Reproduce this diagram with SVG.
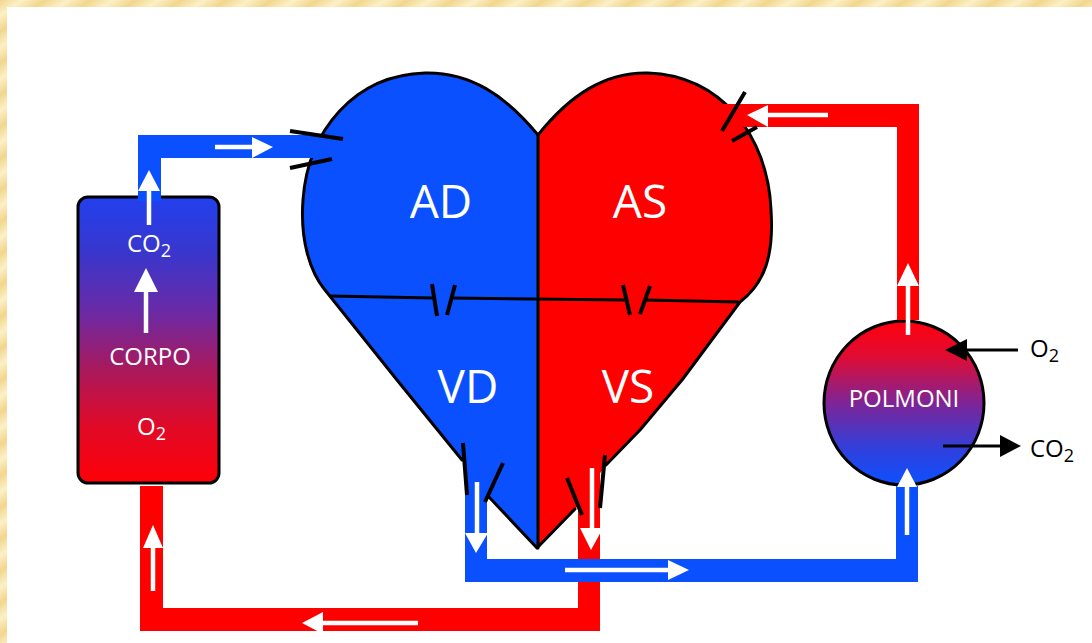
<svg xmlns="http://www.w3.org/2000/svg" width="1092" height="643" viewBox="0 0 1092 643">
  <defs>
    <linearGradient id="paperStripe" x1="0" y1="0" x2="1" y2="0">
      <stop offset="0" stop-color="#f2d68e"/>
      <stop offset="0.5" stop-color="#fcf0c6"/>
      <stop offset="1" stop-color="#f2d68e"/>
    </linearGradient>
    <pattern id="paper" width="26" height="26" patternUnits="userSpaceOnUse" patternTransform="rotate(55)">
      <rect width="26" height="26" fill="url(#paperStripe)"/>
    </pattern>
    <linearGradient id="bodyGrad" x1="0" y1="0" x2="0" y2="1">
      <stop offset="0" stop-color="#2240ee"/>
      <stop offset="0.2" stop-color="#3a36cc"/>
      <stop offset="0.4" stop-color="#6a2aa6"/>
      <stop offset="0.6" stop-color="#a8195e"/>
      <stop offset="0.8" stop-color="#e00a28"/>
      <stop offset="1" stop-color="#ff0008"/>
    </linearGradient>
    <linearGradient id="lungGrad" x1="0" y1="0" x2="0" y2="1">
      <stop offset="0" stop-color="#ff000c"/>
      <stop offset="0.22" stop-color="#e00c34"/>
      <stop offset="0.5" stop-color="#7e2496"/>
      <stop offset="0.78" stop-color="#3040dc"/>
      <stop offset="1" stop-color="#0c50ff"/>
    </linearGradient>
    <style>
      .blue { fill: #0a50ff; }
      .red { fill: #ff0000; }
      .edge { fill: none; stroke: #000; stroke-width: 3; stroke-linejoin: round; stroke-linecap: round; }
      .valve { fill: none; stroke: #000; stroke-width: 4; stroke-linecap: butt; }
      .flow { stroke: #fff; stroke-width: 4.5; fill: none; }
      .head { fill: #fff; }
      .gas { stroke: #000; stroke-width: 3; fill: none; }
      .gashead { fill: #000; }
      .lbl { font-family: "Open Sans", "Liberation Sans", sans-serif; fill: #fff; }
      .chamber { font-size: 46px; text-anchor: middle; }
      .small { font-size: 24px; }
      .ext { font-family: "Open Sans", "Liberation Sans", sans-serif; font-size: 24px; fill: #000; }
    </style>
  </defs>

  <!-- page -->
  <rect x="0" y="0" width="1092" height="643" fill="#fff"/>
  <rect x="0" y="0" width="1092" height="7" fill="url(#paper)"/>
  <rect x="0" y="0" width="7" height="643" fill="url(#paper)"/>

  <!-- heart with its four chambers -->
  <g id="heart">
    <path id="heart-right-side" class="blue" d="M538,135 C505,95 470,72 425,73 C355,75 308,130 303,200 C300,240 310,272 325,290 L397,380 L463,462 L487,495 L537,548 Z"/>
    <path id="heart-left-side" class="red" d="M538,135 C570,95 605,72 648,73 C720,75 768,135 771,210 C774,255 765,283 740,302 L682,380 L640,430 L605,466 L577,507 L537,548 Z"/>
    <path class="edge" d="M538,135 C505,95 470,72 425,73 C355,75 308,130 303,200 C300,240 310,272 325,290 L397,380 L462,460"/>
    <path class="edge" d="M489,497 L537,548 L575,509"/>
    <path class="edge" d="M538,135 C570,95 605,72 648,73 C720,75 768,135 771,210 C774,255 765,283 740,302 L682,380 L640,430 L606,465"/>
    <path class="edge" d="M538,135 L538,548"/>
    <path class="edge" d="M331,296 L433,298 M452,298 L626,300 M646,300 L738,302"/>
    <!-- tricuspid and mitral valves -->
    <path class="valve" d="M432,284 L437,316 M455,285 L447,315"/>
    <path class="valve" d="M623,285 L630,315 M650,286 L640,314"/>
    <g id="AD"><text class="lbl chamber" x="441" y="218">AD</text></g>
    <g id="AS"><text class="lbl chamber" x="640" y="218">AS</text></g>
    <g id="VD"><text class="lbl chamber" x="468" y="403">VD</text></g>
    <g id="VS"><text class="lbl chamber" x="628" y="403">VS</text></g>
  </g>

  <!-- body -->
  <g id="corpo">
    <rect x="78" y="197" width="141" height="286" rx="10" fill="url(#bodyGrad)" stroke="#000" stroke-width="3"/>
    <text class="lbl small" x="127" y="252">CO<tspan font-size="18" dy="5">2</tspan></text>
    <text class="lbl small" x="150" y="365" text-anchor="middle">CORPO</text>
    <text class="lbl small" x="137" y="435">O<tspan font-size="18" dy="5">2</tspan></text>
  </g>

  <!-- lungs -->
  <g id="polmoni">
    <ellipse cx="904" cy="403" rx="80" ry="82" fill="url(#lungGrad)" stroke="#000" stroke-width="3"/>
    <text class="lbl small" x="904" y="407" text-anchor="middle">POLMONI</text>
    <line class="gas" x1="1018" y1="350" x2="964" y2="350"/>
    <polygon class="gashead" points="967,339 967,361 945,350"/>
    <text class="ext" x="1030" y="357">O<tspan font-size="18" dy="5">2</tspan></text>
    <line class="gas" x1="943" y1="446" x2="1002" y2="446"/>
    <polygon class="gashead" points="1000,435 1000,457 1021,446"/>
    <text class="ext" x="1030" y="457">CO<tspan font-size="18" dy="5">2</tspan></text>
  </g>

  <!-- vessels, flow arrows and inlet/outlet valves -->
  <g id="connectors">
    <!-- aorta to body -->
    <rect class="red" x="578" y="470" width="22" height="161"/>
    <rect class="red" x="140" y="608" width="460" height="23"/>
    <rect class="red" x="140" y="486" width="23" height="145"/>
    <!-- pulmonary veins to left atrium -->
    <rect class="red" x="897" y="104" width="22" height="216"/>
    <rect class="red" x="722" y="104" width="197" height="23"/>
    <!-- venae cavae to right atrium -->
    <rect class="blue" x="138" y="135" width="23" height="66"/>
    <rect class="blue" x="138" y="135" width="192" height="23"/>
    <!-- pulmonary artery to lungs -->
    <rect class="blue" x="465" y="455" width="22" height="127"/>
    <rect class="blue" x="465" y="559" width="453" height="23"/>
    <rect class="blue" x="896" y="486" width="22" height="96"/>

    <!-- valves at the vessel openings -->
    <path class="valve" d="M290,131 L343,139 M290,168 L332,159"/>
    <path class="valve" d="M745,92 L722,131 M732,141 L757,127"/>
    <path class="valve" d="M463,443 L467,495 M503,463 L485,502"/>
    <path class="valve" d="M567,478 L582,515 M605,455 L600,508"/>

    <!-- flow direction -->
    <line class="flow" x1="149" y1="225" x2="149" y2="190"/>
    <polygon class="head" points="138,191 160,191 149,170"/>
    <line class="flow" x1="146" y1="333" x2="146" y2="291"/>
    <polygon class="head" points="134,292 158,292 146,268"/>
    <line class="flow" x1="215" y1="147" x2="254" y2="147"/>
    <polygon class="head" points="252,137 252,158 273,147"/>
    <line class="flow" x1="828" y1="115" x2="766" y2="115"/>
    <polygon class="head" points="768,105 768,127 747,115"/>
    <line class="flow" x1="908" y1="335" x2="908" y2="284"/>
    <polygon class="head" points="897,286 919,286 908,263"/>
    <line class="flow" x1="477" y1="482" x2="477" y2="535"/>
    <polygon class="head" points="465,533 488,533 476,553"/>
    <line class="flow" x1="592" y1="468" x2="592" y2="530"/>
    <polygon class="head" points="580,528 603,528 591,550"/>
    <line class="flow" x1="565" y1="570" x2="670" y2="570"/>
    <polygon class="head" points="668,560 668,580 689,570"/>
    <line class="flow" x1="907" y1="535" x2="907" y2="485"/>
    <polygon class="head" points="897,487 917,487 907,468"/>
    <line class="flow" x1="418" y1="623" x2="321" y2="623"/>
    <polygon class="head" points="323,612 323,634 302,623"/>
    <line class="flow" x1="153" y1="591" x2="153" y2="546"/>
    <polygon class="head" points="143,548 163,548 153,525"/>
  </g>
</svg>
